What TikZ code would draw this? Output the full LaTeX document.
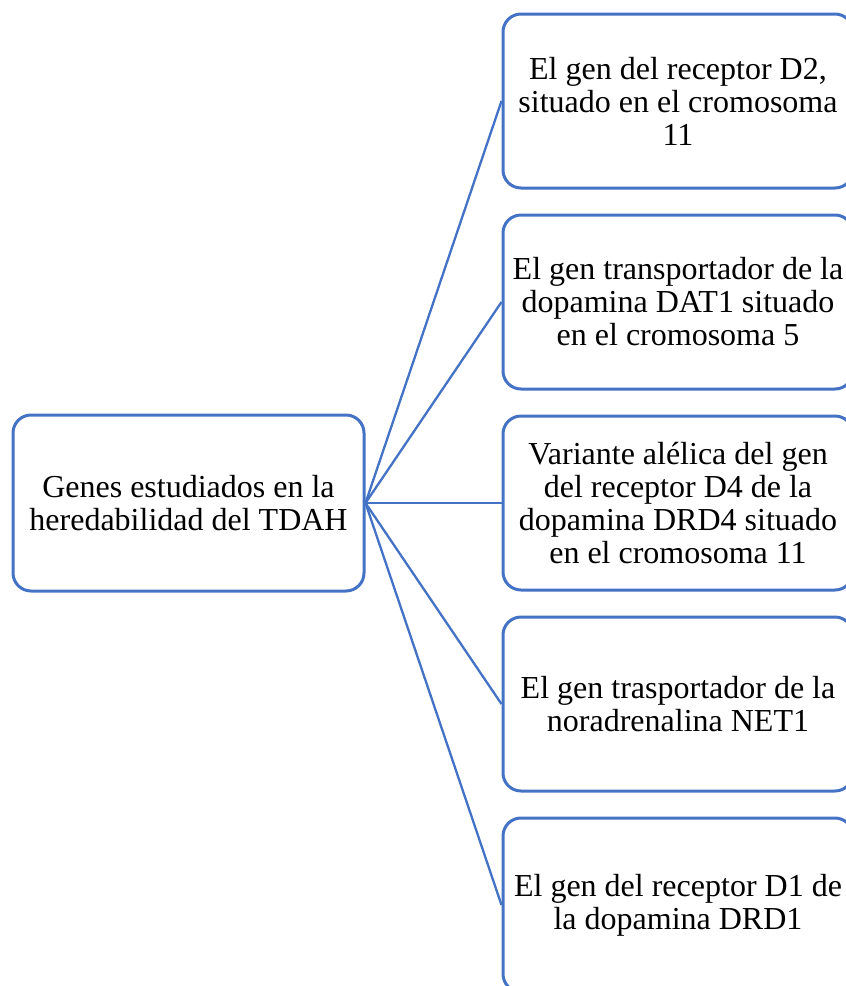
\documentclass[tikz,border=0pt]{standalone}
\usepackage{fontspec}
\setmainfont{Liberation Serif}
\definecolor{boxblue}{HTML}{4472C4}
\begin{document}
\begin{tikzpicture}[x=1pt,y=1pt,
  genbox/.style={draw=boxblue, line width=3pt, rounded corners=18pt,
    fill=white, minimum width=350pt, minimum height=174pt,
    align=center, inner sep=0pt,
    font=\fontsize{32}{33}\selectfont},
  link/.style={draw=boxblue, line width=2.3pt}]
\useasboundingbox (0,0) rectangle (846,-986);
\clip (0,0) rectangle (846,-986);
\fill[white] (0,0) rectangle (846,-986);

\node[genbox, minimum width=351pt, minimum height=176pt] (root) at (188.5,-503)
  {Genes estudiados en la\\heredabilidad del TDAH};

\node[genbox] (g1) at (678,-101) {El gen del receptor D2,\\situado en el cromosoma\\11};
\node[genbox] (g2) at (678,-302) {El gen transportador de la\\dopamina DAT1 situado\\en el cromosoma 5};
\node[genbox] (g3) at (678,-503) {Variante alélica del gen\\del receptor D4 de la\\dopamina DRD4 situado\\en el cromosoma 11};
\node[genbox] (g4) at (678,-704) {El gen trasportador de la\\noradrenalina NET1};
\node[genbox] (g5) at (678,-905) {El gen del receptor D1 de\\la dopamina DRD1};

\foreach \g in {g1,g2,g3,g4,g5}
  \draw[link] (root.east) -- (\g.west);
\end{tikzpicture}
\end{document}
